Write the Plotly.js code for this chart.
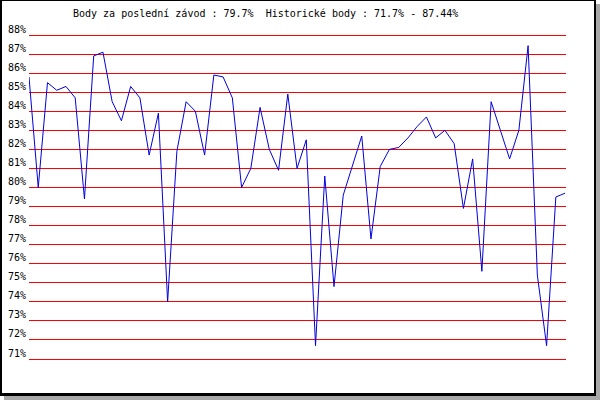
<!DOCTYPE html>
<html>
<head>
<meta charset="utf-8">
<script src="https://cdn.plot.ly/plotly-3.0.1.min.js"></script>
<style>
html,body{margin:0;padding:0;background:#fff;}
#wrap{position:relative;width:600px;height:400px;overflow:hidden;}
#chart{position:absolute;left:0;top:0;width:600px;height:400px;}
#frame{position:absolute;left:0;top:0;box-sizing:border-box;width:596px;height:396px;border-left:2px solid #000;border-top:1px solid #000;border-right:2px solid #000;border-bottom:3px solid #000;box-shadow:4px 4px 0 #a8a8a8;pointer-events:none;}
</style>
</head>
<body>
<div id="wrap">
<div id="chart"></div>
<div id="frame"></div>
</div>
<script>
// Points per race (percent), in order
const points = [85.8, 80.0, 85.5, 85.1, 85.3, 84.7, 79.4, 86.9, 87.1, 84.5,
  83.5, 85.3, 84.7, 81.7, 83.9, 74.0, 81.9, 84.5, 84.0, 81.7,
  85.9, 85.8, 84.7, 80.0, 81.0, 84.2, 82.0, 80.9, 84.9, 81.0,
  82.5, 71.7, 80.6, 74.8, 79.6, 81.2, 82.7, 77.3, 81.1, 82.0,
  82.1, 82.6, 83.2, 83.7, 82.6, 83.0, 82.3, 78.9, 81.5, 75.6,
  84.5, 83.0, 81.5, 83.0, 87.44, 75.4, 71.7, 79.5, 79.7];
const races = points.map((_, i) => i);
const tickVals = [71,72,73,74,75,76,77,78,79,80,81,82,83,84,85,86,87,88];
const tickText = tickVals.map(v => v + '%');
const titleText = 'Body za poslední závod : 79.7%  Historické body : 71.7% - 87.44%';

const mono = 'DejaVu Sans Mono, monospace';

Plotly.newPlot('chart', [{
  x: races, y: points, type: 'scatter', mode: 'lines',
  line: {color: '#0000dd', width: 1}, hoverinfo: 'none'
}], {
  width: 600, height: 400,
  margin: {l: 29, r: 34, t: 30, b: 31, pad: 0},
  paper_bgcolor: '#ffffff', plot_bgcolor: '#ffffff',
  showlegend: false,
  xaxis: {range: [0, 58.1], visible: false, showgrid: false, zeroline: false},
  yaxis: {range: [70.4753, 88.2623], tickvals: tickVals, ticktext: tickText,
    showgrid: true, gridcolor: '#ff0000', gridwidth: 1, zeroline: false,
    showline: false, ticks: '', ticklabelshift: -6, ticklabelstandoff: 2,
    tickfont: {family: mono, size: 10, color: '#000'}},
  annotations: [{
    text: titleText, xref: 'paper', yref: 'paper',
    x: (71 - 29) / 537, y: (369 - 13.5) / 339, xanchor: 'left', yanchor: 'middle',
    showarrow: false, font: {family: mono, size: 10, color: '#000'}
  }]
}, {staticPlot: true});
</script>
</body>
</html>
